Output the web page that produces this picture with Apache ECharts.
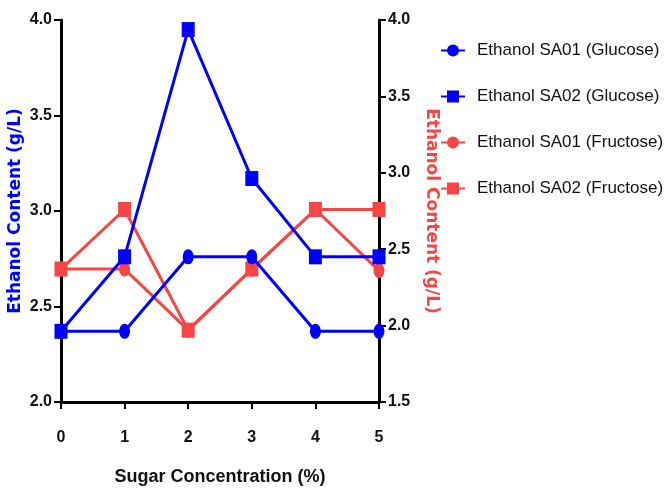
<!DOCTYPE html>
<html><head><meta charset="utf-8">
<script src="https://cdn.jsdelivr.net/npm/echarts@6/dist/echarts.min.js"></script>
<style>html,body{margin:0;padding:0;background:#fff}#c{width:669px;height:488px}</style>
</head><body><div id="c"></div>
<script>
const xValues = [0, 1, 2, 3, 4, 5];
const sa01Glucose = [2.37, 2.37, 2.76, 2.76, 2.37, 2.37];
const sa02Glucose = [2.37, 2.76, 3.95, 3.17, 2.76, 2.76];
const sa01Fructose = [2.37, 2.37, 1.97, 2.37, 2.76, 2.36];
const sa02Fructose = [2.37, 2.76, 1.97, 2.37, 2.76, 2.76];
const seriesNames = ['Ethanol SA01 (Glucose)', 'Ethanol SA02 (Glucose)', 'Ethanol SA01 (Fructose)', 'Ethanol SA02 (Fructose)'];
const BLUE = '#0000ff', RED = '#f54545';
const tickFont = {fontFamily: 'Liberation Sans Narrow, Liberation Sans', fontWeight: 'bold', fontSize: 16, color: '#111'};
const pairs = arr => arr.map((v, i) => [xValues[i], v]);
function mk(name, data, color, sym, axis) {
  return {name, type: 'line', data: pairs(data), yAxisIndex: axis, symbol: sym,
    symbolSize: sym === 'circle' ? [11, 15] : [13, 15],
    lineStyle: {color, width: 3}, itemStyle: {color}, color, z: axis ? 2 : 3};
}
const chart = echarts.init(document.getElementById('c'));
chart.setOption({
  animation: false,
  grid: {left: 61, right: 290, top: 20, bottom: 86, containLabel: false, outerBoundsMode: 'none'},
  legend: {orient: 'vertical', left: 440, top: 42, padding: 0, itemGap: 29, itemWidth: 24, itemHeight: 15,
    data: seriesNames,
    textStyle: {fontFamily: 'Liberation Sans', fontSize: 17, color: '#111', padding: [0, 0, 0, 7]}},
  xAxis: {type: 'value', min: 0, max: 5, interval: 1,
    axisLine: {lineStyle: {color: '#000', width: 3}},
    axisTick: {show: true, length: 7, lineStyle: {color: '#000', width: 2}},
    axisLabel: Object.assign({margin: 28}, tickFont),
    splitLine: {show: false},
    name: 'Sugar Concentration (%)', nameLocation: 'middle', nameGap: 66,
    nameTextStyle: {fontFamily: 'Liberation Sans Narrow, Liberation Sans', fontWeight: 'bold', fontSize: 18, color: '#111'}},
  yAxis: [
    {type: 'value', min: 2, max: 4, interval: 0.5, position: 'left',
      axisLine: {show: true, lineStyle: {color: '#000', width: 3}},
      axisTick: {show: true, length: 7, lineStyle: {color: '#000', width: 2}},
      axisLabel: Object.assign({margin: 9, formatter: v => v.toFixed(1)}, tickFont),
      splitLine: {show: false},
      name: 'Ethanol Content (g/L)', nameLocation: 'middle', nameGap: 37, nameRotate: 90,
      nameTextStyle: {fontFamily: 'DejaVu Sans', fontWeight: 'bold', fontSize: 17, color: BLUE}},
    {type: 'value', min: 1.5, max: 4, interval: 0.5, position: 'right',
      axisLine: {show: true, lineStyle: {color: '#000', width: 3}},
      axisTick: {show: true, length: 7, lineStyle: {color: '#000', width: 2}},
      axisLabel: Object.assign({margin: 9, formatter: v => v.toFixed(1)}, tickFont),
      splitLine: {show: false},
      name: 'Ethanol Content (g/L)', nameLocation: 'middle', nameGap: 44, nameRotate: -90,
      nameTextStyle: {fontFamily: 'DejaVu Sans', fontWeight: 'bold', fontSize: 17, color: RED}}
  ],
  series: [
    mk(seriesNames[0], sa01Glucose, BLUE, 'circle', 0),
    mk(seriesNames[1], sa02Glucose, BLUE, 'rect', 0),
    mk(seriesNames[2], sa01Fructose, RED, 'circle', 1),
    mk(seriesNames[3], sa02Fructose, RED, 'rect', 1)
  ]
});
</script></body></html>
